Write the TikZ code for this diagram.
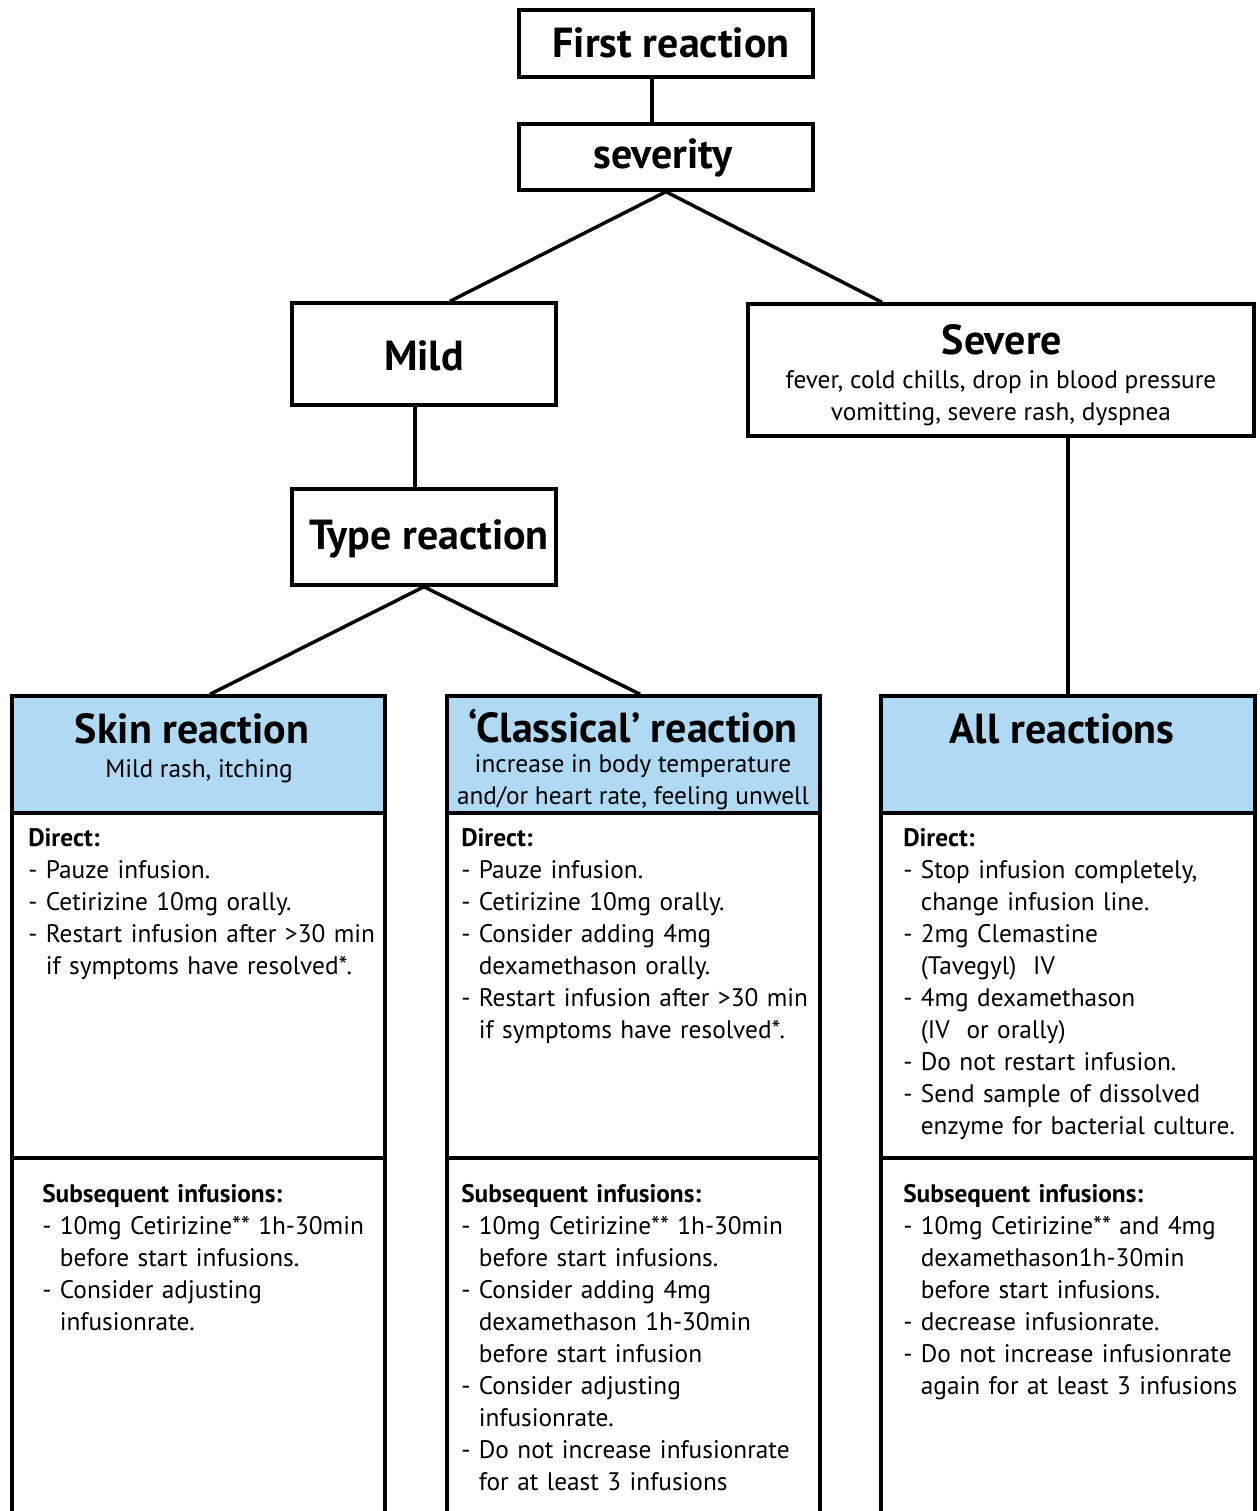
\documentclass[tikz,border=0pt]{standalone}
\usepackage{fontspec}
\setmainfont{PT Sans}
\definecolor{hdrblue}{HTML}{B0DAF4}
\newcommand\ctl{\phantom{-\ }}
\begin{document}
\begin{tikzpicture}[x=0.75pt,y=-0.75pt,
  box/.style={draw, line width=2.6pt, inner sep=0pt, fill=white},
  hdr/.style={box, fill=hdrblue},
  conn/.style={line width=2.6pt},
  ttl/.style={font=\fontsize{31.5}{34}\selectfont\bfseries, inner sep=0pt},
  sub/.style={font=\fontsize{19}{24}\selectfont, inner sep=0pt, align=center},
  body/.style={font=\fontsize{19}{24}\selectfont, inner sep=0pt, anchor=base west, text width=275pt, align=left},
]
\useasboundingbox (0,0) rectangle (1260,1511);
\fill[white] (0,0) rectangle (1260,1511);

% top boxes
\node[box, minimum width=220.5pt, minimum height=50.25pt] (first) at (666,43.5) {};
\node[ttl] (firstT) at (671,43) {First reaction};
\node[box, minimum width=220.5pt, minimum height=49.5pt] (sev) at (666,157) {};
\node[ttl] (sevT) at (663,158) {severity};
\node[box, minimum width=198pt, minimum height=76.5pt] (mild) at (424,354) {};
\node[ttl] (mildT) at (424,356) {Mild};
\node[box, minimum width=198pt, minimum height=72pt] (type) at (424,537) {};
\node[ttl] (typeT) at (429,539) {Type reaction};
\node[box, minimum width=379.5pt, minimum height=99pt] (severe) at (1001,370) {};
\node[ttl] (severeT) at (1002,340) {Severe};
\node[sub] (severeS) at (1001,398) {fever, cold chills, drop in blood pressure\\vomitting, severe rash, dyspnea};

% columns
\node[hdr, minimum width=279.75pt, minimum height=87.75pt] (skinH) at (198.5,754.5) {};
\node[box, minimum width=279.75pt, minimum height=258.75pt] (skinD) at (198.5,985.5) {};
\node[box, minimum width=279.75pt, minimum height=279pt] (skinS) at (198.5,1344) {};
\node[ttl] (skinT) at (192,729) {Skin reaction};
\node[sub] (skinST) at (199,771) {Mild rash, itching};

\node[hdr, minimum width=279.75pt, minimum height=87.75pt] (clsH) at (633.5,754.5) {};
\node[box, minimum width=279.75pt, minimum height=258.75pt] (clsD) at (633.5,985.5) {};
\node[box, minimum width=279.75pt, minimum height=279pt] (clsS) at (633.5,1344) {};
\node[ttl] (clsT) at (633,726) {‘Classical’ reaction};
\node[sub] (clsST) at (633,782) {increase in body temperature\\and/or heart rate, feeling unwell};

\node[hdr, minimum width=280.5pt, minimum height=87.75pt] (allH) at (1068,754.5) {};
\node[box, minimum width=280.5pt, minimum height=258.75pt] (allD) at (1068,985.5) {};
\node[box, minimum width=280.5pt, minimum height=279pt] (allS) at (1068,1344) {};
\node[ttl] (allT) at (1062,729) {All reactions};

% body texts
\node[body] (skinDT) at (28,846) {\textbf{Direct:}\\
- Pauze infusion.\\
- Cetirizine 10mg orally.\\
- Restart infusion after >30 min\\
\ctl if symptoms have resolved*.};
\node[body] (skinSTx) at (42,1202) {\textbf{Subsequent infusions:}\\
- 10mg Cetirizine** 1h-30min\\
\ctl before start infusions.\\
- Consider adjusting\\
\ctl infusionrate.};

\node[body] (clsDT) at (461,846) {\textbf{Direct:}\\
- Pauze infusion.\\
- Cetirizine 10mg orally.\\
- Consider adding 4mg\\
\ctl dexamethason orally.\\
- Restart infusion after >30 min\\
\ctl if symptoms have resolved*.};
\node[body] (clsSTx) at (461,1202) {\textbf{Subsequent infusions:}\\
- 10mg Cetirizine** 1h-30min\\
\ctl before start infusions.\\
- Consider adding 4mg\\
\ctl dexamethason 1h-30min\\
\ctl before start infusion\\
- Consider adjusting\\
\ctl infusionrate.\\
- Do not increase infusionrate\\
\ctl for at least 3 infusions};

\node[body] (allDT) at (903,846) {\textbf{Direct:}\\
- Stop infusion completely,\\
\ctl change infusion line.\\
- 2mg Clemastine\\
\ctl (Tavegyl)\ \ IV\\
- 4mg dexamethason\\
\ctl (IV\ \ or orally)\\
- Do not restart infusion.\\
- Send sample of dissolved\\
\ctl enzyme for bacterial culture.};
\node[body] (allSTx) at (903,1202) {\textbf{Subsequent infusions:}\\
- 10mg Cetirizine** and 4mg\\
\ctl dexamethason1h-30min\\
\ctl before start infusions.\\
- decrease infusionrate.\\
- Do not increase infusionrate\\
\ctl again for at least 3 infusions};

% connectors
\draw[conn] ([xshift=-10.5pt]first.south) -- ([xshift=-10.5pt]sev.north);
\draw[conn] (sev.south) -- ([xshift=19.5pt]mild.north);
\draw[conn] (sev.south) -- ([xshift=-89.25pt]severe.north);
\draw[conn] ([xshift=-6.75pt]mild.south) -- ([xshift=-6.75pt]type.north);
\draw[conn] (type.south) -- ([xshift=8.6pt]skinH.north);
\draw[conn] (type.south) -- ([xshift=4.9pt]clsH.north);
\draw[conn] (allH.north |- severe.south) -- (allH.north);
\end{tikzpicture}
\end{document}
